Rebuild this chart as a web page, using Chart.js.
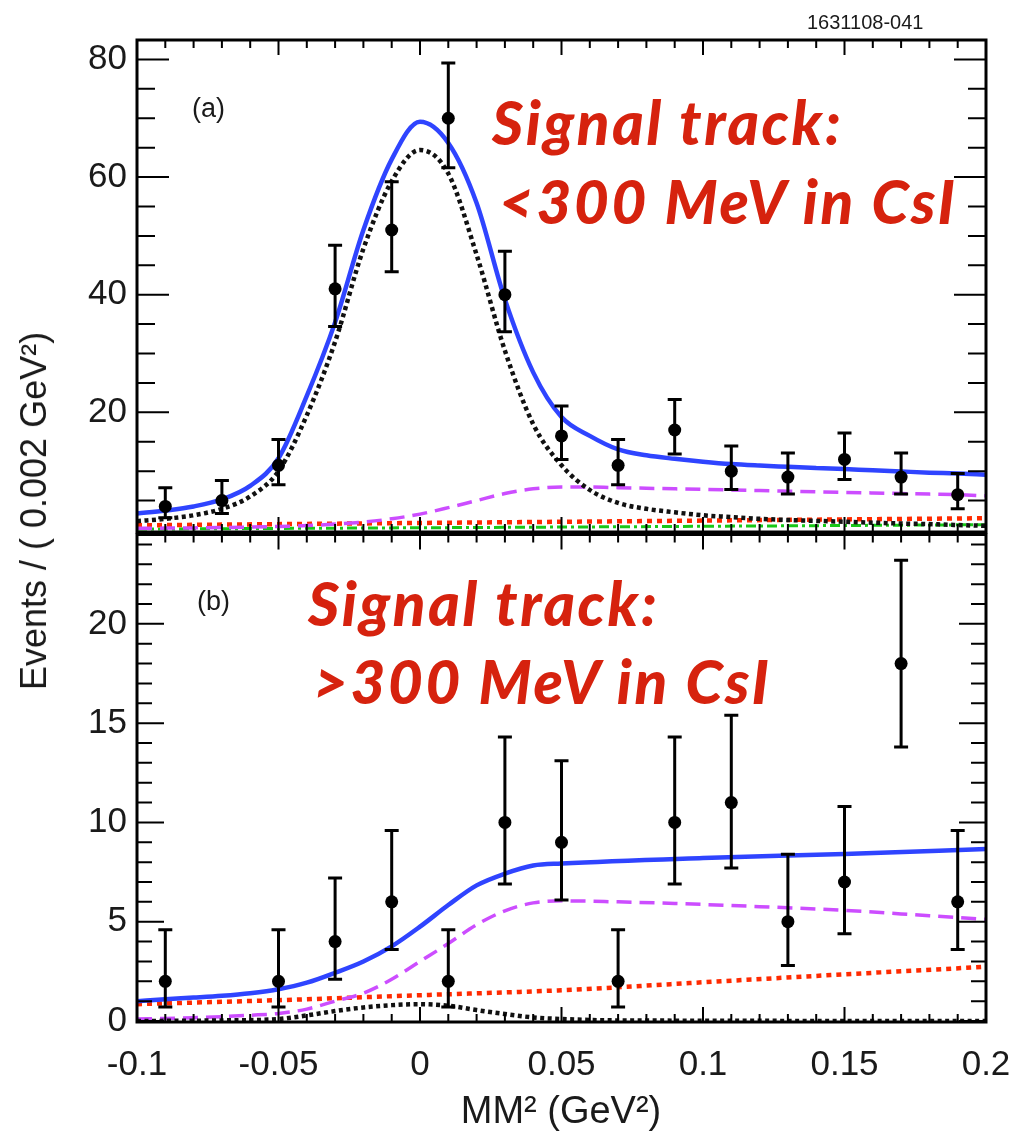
<!DOCTYPE html>
<html>
<head>
<meta charset="utf-8">
<script src="https://cdn.jsdelivr.net/npm/chart.js@4.4.1/dist/chart.umd.min.js"></script>
<style>
body { margin: 0; background: #fff; }
#wrap { position: relative; width: 1009px; height: 1134px; overflow: hidden; font-family: "Liberation Sans", Arial, sans-serif; }
canvas { position: absolute; left: 0; }
#topChart { top: 0; }
#botChart { top: 528px; }
.lbl { position: absolute; white-space: nowrap; line-height: 1; color: #1a1a1a; }
.red { font-family: Lato, "Open Sans", sans-serif; font-weight: 900; font-style: italic; color: #d6220e; font-size: 60px; letter-spacing: 2.7px; }
</style>
</head>
<body>
<div id="wrap">
  <canvas id="topChart" width="1009" height="540"></canvas>
  <canvas id="botChart" width="1009" height="606"></canvas>
  <div class="lbl" style="left:807px;top:12px;font-size:20px;">1631108-041</div>
  <div class="lbl" style="left:192px;top:95px;font-size:27px;">(a)</div>
  <div class="lbl" style="left:197px;top:588px;font-size:27px;">(b)</div>
  <div class="lbl red" style="left:492px;top:92px;">Signal track:</div>
  <div class="lbl red" style="left:499px;top:171px;">&lt;300 MeV in CsI</div>
  <div class="lbl red" style="left:308px;top:573px;">Signal track:</div>
  <div class="lbl red" style="left:313px;top:651px;">&gt;300 MeV in CsI</div>
  <div class="lbl" style="left:34px;top:511px;font-size:36px;transform:translate(-50%,-50%) rotate(-90deg);">Events / ( 0.002 GeV²)</div>
  <div class="lbl" style="left:561px;top:1091px;font-size:38px;transform:translateX(-50%);">MM² (GeV²)</div>
</div>
<script>
// axis ticks
const xMajorTicks = [-0.1, -0.05, 0, 0.05, 0.1, 0.15, 0.2];
const xMinorTicks = [-0.09, -0.08, -0.07, -0.06, -0.04, -0.03, -0.02, -0.01, 0.01, 0.02, 0.03, 0.04,
    0.06, 0.07, 0.08, 0.09, 0.11, 0.12, 0.13, 0.14, 0.16, 0.17, 0.18, 0.19];
const topYLabels = [20, 40, 60, 80];
const topYMinor = [5, 10, 15, 25, 30, 35, 45, 50, 55, 65, 70, 75];
const botYLabels = [0, 5, 10, 15, 20];
const botYMinor = [1, 2, 3, 4, 6, 7, 8, 9, 11, 12, 13, 14, 16, 17, 18, 19, 21, 22, 23, 24];

// panel (a) data
const topPtX = [-0.09, -0.07, -0.05, -0.03, -0.01, 0.01, 0.03, 0.05, 0.07, 0.09, 0.11, 0.13, 0.15, 0.17, 0.19];
const topPtY = [4, 5, 11, 41, 51, 70, 40, 16, 11, 17, 10, 9, 12, 9, 6];
const topLow = [2.1, 2.8, 7.7, 34.6, 43.9, 61.6, 33.7, 12.0, 7.7, 12.9, 6.9, 6.1, 8.6, 6.1, 3.6];
const topHigh = [7.2, 8.4, 15.4, 48.4, 59.2, 79.4, 47.4, 21.1, 15.4, 22.2, 14.3, 13.1, 16.5, 13.1, 9.6];

const gridX = [-0.10, -0.09, -0.08, -0.07, -0.06, -0.05, -0.04, -0.03, -0.02, -0.01, 0, 0.01, 0.02, 0.03, 0.04, 0.05,
    0.06, 0.07, 0.08, 0.09, 0.10, 0.11, 0.12, 0.13, 0.14, 0.15, 0.16, 0.17, 0.18, 0.19, 0.20];
const topBlue = [2.8, 3.3, 4.0, 5.2, 7.5, 12.2, 22.8, 35.3, 51.0, 63.0, 69.4, 65.8, 55.6, 39.2, 26.8, 19.2,
    16.0, 13.7, 12.7, 12.1, 11.6, 11.2, 10.95, 10.75, 10.55, 10.35, 10.15, 9.95, 9.75, 9.6, 9.4];
const topSignal = [1.5, 1.9, 2.5, 3.6, 5.7, 10.0, 19.5, 32.0, 47.8, 59.3, 64.6, 60.6, 46.8, 30.5, 18.0, 11.0,
    6.8, 4.6, 3.6, 3.0, 2.5, 2.2, 1.9, 1.7, 1.55, 1.4, 1.25, 1.1, 1.0, 0.85, 0.7];
const topPurple = [0.3, 0.32, 0.36, 0.42, 0.5, 0.6, 0.75, 1.0, 1.35, 1.9, 2.7, 3.8, 5.0, 6.2, 7.0, 7.3,
    7.3, 7.2, 7.1, 7.0, 6.9, 6.8, 6.7, 6.6, 6.5, 6.4, 6.3, 6.2, 6.1, 6.0, 5.8];
const topRedX = [-0.1, 0, 0.1, 0.2];
const topRed = [0.8, 1.2, 1.6, 2.0];
const topGreenX = [-0.1, 0.05, 0.2];
const topGreen = [0.15, 0.5, 0.9];

// panel (b) data
const botPtX = [-0.09, -0.05, -0.03, -0.01, 0.01, 0.03, 0.05, 0.07, 0.09, 0.11, 0.13, 0.15, 0.17, 0.19];
const botPtY = [2, 2, 4, 6, 2, 10, 9, 2, 10, 11, 5, 7, 18, 6];
const botLow = [0.7, 0.7, 2.1, 3.6, 0.7, 6.9, 6.1, 0.7, 6.9, 7.7, 2.8, 4.4, 13.8, 3.6];
const botHigh = [4.6, 4.6, 7.2, 9.6, 4.6, 14.3, 13.1, 4.6, 14.3, 15.4, 8.4, 10.8, 23.2, 9.6];

const botBlueX = [-0.10, -0.09, -0.08, -0.07, -0.06, -0.05, -0.04, -0.03, -0.02, -0.01, 0, 0.01, 0.02, 0.03, 0.04, 0.05, 0.10, 0.15, 0.20];
const botBlue = [1.0, 1.1, 1.18, 1.27, 1.4, 1.6, 1.93, 2.43, 3.0, 3.76, 4.75, 5.84, 6.83, 7.42, 7.83, 7.93, 8.21, 8.41, 8.66];
const botPurpleX = [-0.10, -0.09, -0.08, -0.07, -0.06, -0.05, -0.04, -0.03, -0.02, -0.01, 0, 0.01, 0.02, 0.03, 0.04, 0.05,
    0.07, 0.09, 0.12, 0.15, 0.18, 0.20];
const botPurple = [0.1, 0.13, 0.17, 0.22, 0.29, 0.38, 0.6, 1.0, 1.4, 2.1, 3.0, 3.9, 4.85, 5.55, 5.95, 6.05,
    6.0, 5.92, 5.76, 5.57, 5.3, 5.12];
const botRedX = [-0.1, -0.05, 0, 0.05, 0.1, 0.15, 0.2];
const botRed = [0.85, 1.05, 1.3, 1.55, 1.95, 2.35, 2.73];
const botSignalX = [-0.10, -0.07, -0.05, -0.04, -0.03, -0.02, -0.01, 0, 0.01, 0.02, 0.03, 0.04, 0.05, 0.07, 0.20];
const botSignal = [0.0, 0.03, 0.1, 0.28, 0.5, 0.68, 0.8, 0.85, 0.77, 0.55, 0.35, 0.18, 0.1, 0.03, 0.0];

const pairs = (xs, ys) => xs.map((x, i) => ({ x: x, y: ys[i] }));
const tickFont = { family: '"Liberation Sans", Arial, sans-serif', size: 35 };

// error bars from the low/high arrays
const errorBars = {
    id: 'errorBars',
    afterDatasetsDraw(chart, args, o) {
        const { ctx, scales: { x, y } } = chart;
        ctx.save();
        ctx.strokeStyle = '#000';
        ctx.lineWidth = 3;
        ctx.beginPath();
        o.xs.forEach((xv, i) => {
            const px = x.getPixelForValue(xv);
            const lo = y.getPixelForValue(o.lo[i]);
            const hi = y.getPixelForValue(o.hi[i]);
            ctx.moveTo(px, lo); ctx.lineTo(px, hi);
            ctx.moveTo(px - 7, lo); ctx.lineTo(px + 7, lo);
            ctx.moveTo(px - 7, hi); ctx.lineTo(px + 7, hi);
        });
        ctx.stroke();
        ctx.restore();
    }
};

// ROOT style frame with inward ticks on all four sides
const rootFrame = {
    id: 'rootFrame',
    afterDraw(chart, args, o) {
        const { ctx, chartArea: a, scales: { x, y } } = chart;
        ctx.save();
        ctx.strokeStyle = '#000';
        ctx.lineWidth = 2;
        ctx.beginPath();
        const xt = (vals, len) => vals.forEach(v => {
            const px = x.getPixelForValue(v);
            ctx.moveTo(px, a.bottom); ctx.lineTo(px, a.bottom - len);
            ctx.moveTo(px, a.top); ctx.lineTo(px, a.top + len);
        });
        const yt = (vals, len) => vals.forEach(v => {
            const py = y.getPixelForValue(v);
            ctx.moveTo(a.left, py); ctx.lineTo(a.left + len, py);
            ctx.moveTo(a.right, py); ctx.lineTo(a.right - len, py);
        });
        xt(xMajorTicks, 15);
        xt(xMinorTicks, 8);
        yt(o.yMajor, o.majorLen);
        yt(o.yMinor, o.minorLen);
        ctx.stroke();
        ctx.lineWidth = 3;
        ctx.strokeRect(a.left, a.top, a.right - a.left, a.bottom - a.top);
        ctx.restore();
    }
};

function curveSets(blue, signal, purple, red, green) {
    const base = { pointRadius: 0, fill: false, cubicInterpolationMode: 'monotone', clip: 0, borderCapStyle: 'butt' };
    const sets = [
        Object.assign({}, base, { data: blue, borderColor: '#2f44ff', borderWidth: 4.5 }),
        Object.assign({}, base, { data: signal, borderColor: '#111', borderWidth: 4.5, borderDash: [4, 3.5] }),
        Object.assign({}, base, { data: purple, borderColor: '#cc4dff', borderWidth: 3.5, borderDash: [15, 8] }),
        Object.assign({}, base, { data: red, borderColor: '#ff2a00', borderWidth: 4.5, borderDash: [5, 5] })
    ];
    if (green) {
        sets.push(Object.assign({}, base, { data: green, borderColor: '#18c818', borderWidth: 3, borderDash: [10, 4, 3, 4] }));
    }
    return sets;
}

function pointSet(xs, ys) {
    return { data: pairs(xs, ys), showLine: false, pointRadius: 6.5, pointHoverRadius: 6.5,
        pointBackgroundColor: '#000', pointBorderWidth: 0, clip: false };
}

// panel (a)
new Chart(document.getElementById('topChart'), {
    type: 'line',
    data: {
        datasets: [pointSet(topPtX, topPtY)].concat(curveSets(
            pairs(gridX, topBlue), pairs(gridX, topSignal), pairs(gridX, topPurple),
            pairs(topRedX, topRed), pairs(topGreenX, topGreen)))
    },
    options: {
        responsive: false,
        animation: false,
        devicePixelRatio: 1,
        layout: { padding: { top: 40, right: 23, bottom: 8, left: 0 } },
        plugins: {
            legend: { display: false },
            tooltip: { enabled: false },
            errorBars: { xs: topPtX, lo: topLow, hi: topHigh },
            rootFrame: { yMajor: topYLabels, yMinor: topYMinor, majorLen: 32, minorLen: 18 }
        },
        scales: {
            x: { type: 'linear', min: -0.1, max: 0.2, display: false },
            y: {
                min: -0.34, max: 83.3,
                grid: { display: false, drawTicks: false },
                border: { display: false },
                afterBuildTicks: s => { s.ticks = topYLabels.map(v => ({ value: v })); },
                afterFit: s => { s.width = 137; s.paddingTop = 0; s.paddingBottom = 0; },
                ticks: { font: tickFont, color: '#1a1a1a', padding: 10 }
            }
        }
    },
    plugins: [errorBars, rootFrame]
});

// panel (b)
new Chart(document.getElementById('botChart'), {
    type: 'line',
    data: {
        datasets: [pointSet(botPtX, botPtY)].concat(curveSets(
            pairs(botBlueX, botBlue), pairs(botSignalX, botSignal), pairs(botPurpleX, botPurple),
            pairs(botRedX, botRed), null))
    },
    options: {
        responsive: false,
        animation: false,
        devicePixelRatio: 1,
        layout: { padding: { top: 4, right: 23, bottom: 0, left: 0 } },
        plugins: {
            legend: { display: false },
            tooltip: { enabled: false },
            errorBars: { xs: botPtX, lo: botLow, hi: botHigh },
            rootFrame: { yMajor: botYLabels, yMinor: botYMinor, majorLen: 27, minorLen: 15 }
        },
        scales: {
            x: {
                type: 'linear', min: -0.1, max: 0.2,
                grid: { display: false, drawTicks: false },
                border: { display: false },
                afterBuildTicks: s => { s.ticks = xMajorTicks.map(v => ({ value: v })); },
                afterFit: s => { s.height = 112; s.paddingLeft = 0; s.paddingRight = 0; },
                ticks: { font: tickFont, color: '#1a1a1a', padding: 22, maxRotation: 0,
                    callback: v => String(v) }
            },
            y: {
                min: -0.05, max: 24.5,
                grid: { display: false, drawTicks: false },
                border: { display: false },
                afterBuildTicks: s => { s.ticks = botYLabels.map(v => ({ value: v })); },
                afterFit: s => { s.width = 137; s.paddingTop = 0; s.paddingBottom = 0; },
                ticks: { font: tickFont, color: '#1a1a1a', padding: 10 }
            }
        }
    },
    plugins: [errorBars, rootFrame]
});
</script>
</body>
</html>
